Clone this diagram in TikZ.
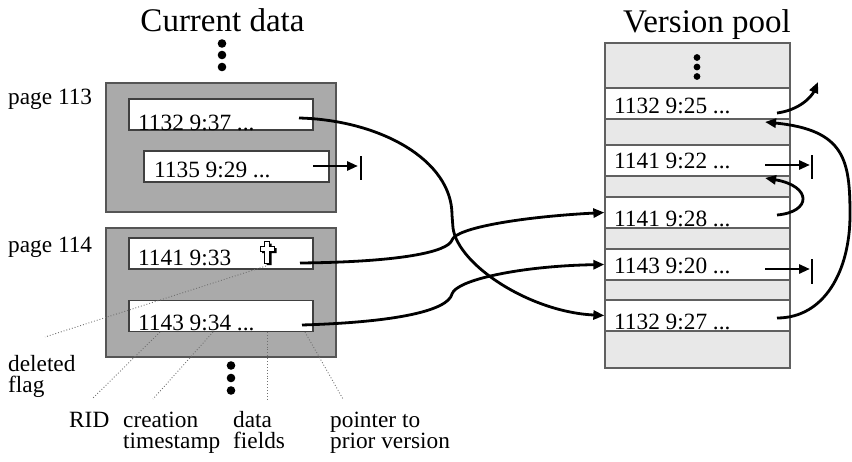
\documentclass[tikz,border=0pt]{standalone}
\usepackage{fontspec}
\setmainfont{Liberation Serif}
\usetikzlibrary{arrows.meta}
\definecolor{pagegray}{HTML}{AAAAAA}
\definecolor{pageborder}{HTML}{555555}
\definecolor{recborder}{HTML}{404040}
\definecolor{poolgray}{HTML}{E8E8E8}
\definecolor{poolborder}{HTML}{606060}
\definecolor{notegray}{HTML}{707070}
\begin{document}
\begin{tikzpicture}[x=1pt,y=-1pt,
  txt/.style={anchor=base west, inner sep=0pt, font=\fontsize{23.3}{21}\selectfont},
  ttl/.style={anchor=base, inner sep=0pt, font=\fontsize{33}{35}\selectfont},
  pagebox/.style={draw=pageborder, fill=pagegray, line width=1.5pt, inner sep=0pt, minimum width=230pt, minimum height=129pt},
  rec/.style={draw=recborder, fill=white, line width=1.3pt, inner sep=0pt, minimum width=184pt, minimum height=31pt},
  row/.style={draw=poolborder, fill=white, line width=1.3pt, inner sep=0pt, minimum width=185pt, minimum height=31pt},
  ptr/.style={line width=2.8pt, -{Triangle[length=11pt,width=9pt]}},
  nilbar/.style={line width=1.2pt},
  note/.style={draw=notegray, line width=0.9pt, dotted},
  dot/.style={fill=black, draw=none},
  crossshape/.style={line width=1pt, line join=miter},
]
\useasboundingbox (0,0) rectangle (852,461);

% titles
\node[ttl] (tcur) at (222.5,31.5) {Current data};
\node[ttl] (tpool) at (707,32) {Version pool};

% current data dots
\fill[dot] (222,43.5) circle (4.3pt) (222,55) circle (4.3pt) (222,67) circle (4.3pt);
\fill[dot] (231,365.5) circle (4.3pt) (231,378) circle (4.3pt) (231,390.5) circle (4.3pt);

% pages
\node[pagebox] (pg113) at (221,147.5) {};
\node[pagebox] (pg114) at (221,292.5) {};
\node[txt] (l113) at (8,104) {page 113};
\node[txt] (l114) at (8,252) {page 114};

% records
\node[rec] (r1) at (221,114.5) {};
\node[rec, minimum width=185pt] (r2) at (236.5,166.5) {};
\node[rec] (r3) at (221,253.5) {};
\node[rec] (r4) at (221,316) {};
\node[txt] (t1) at (138,130.5) {1132 9:37 ...};
\node[txt] (t2) at (154,177) {1135 9:29 ...};
\node[txt] (t3) at (138,265) {1141 9:33};
\node[txt] (t4) at (138,330) {1143 9:34 ...};

% deleted flag (shadowed cross)
\fill[black] (266.5,243.5) -- (271.5,243.5) -- (271.5,248) -- (276.5,248) -- (276.5,253) -- (271.5,253)
  -- (271.5,265) -- (266.5,265) -- (266.5,253) -- (262,253) -- (262,248) -- (266.5,248) -- cycle;
\filldraw[fill=white, draw=black, crossshape] (264.5,241.5) -- (269.5,241.5) -- (269.5,246.5) -- (274.5,246.5)
  -- (274.5,251.5) -- (269.5,251.5) -- (269.5,263) -- (264.5,263) -- (264.5,251.5) -- (260,251.5)
  -- (260,246.5) -- (264.5,246.5) -- cycle;
\coordinate (crossbot) at (266,266);

% version pool
\fill[poolgray] (605,43) rectangle (790,368);
\node[row] (vA) at (697.5,103.5) {};
\node[row] (vB) at (697.5,160.5) {};
\node[row] (vC) at (697.5,212.5) {};
\node[row] (vD) at (697.5,264.5) {};
\node[row] (vE) at (697.5,315.5) {};
\draw[poolborder, line width=1.3pt] (605,43) rectangle (790,368);
\fill[dot] (697,57.5) circle (3.4pt) (697,67) circle (3.4pt) (697,76.5) circle (3.4pt);
\node[txt] (uA) at (614,113) {1132 9:25 ...};
\node[txt] (uB) at (614,168) {1141 9:22 ...};
\node[txt] (uC) at (614,226) {1141 9:28 ...};
\node[txt] (uD) at (614,273) {1143 9:20 ...};
\node[txt] (uE) at (614,329) {1132 9:27 ...};

% pointer coordinates
\coordinate (p1) at (299,118);
\coordinate (p2) at (313,166);
\coordinate (n2) at (358,166);
\coordinate (b2) at (361,166);
\coordinate (p3) at (300,263);
\coordinate (p4) at (302,325);
\coordinate (qA) at (777,113);
\coordinate (nA) at (818,82);
\coordinate (qB) at (765,165);
\coordinate (nB) at (810,165);
\coordinate (bB) at (812,165);
\coordinate (qC) at (777,215);
\coordinate (nC) at (765,178);
\coordinate (qD) at (765,269);
\coordinate (nD) at (810,269);
\coordinate (bD) at (812,269);
\coordinate (qE) at (777,318);
\coordinate (nE) at (765,122);
\coordinate (k1) at (452,215);
\coordinate (k1b) at (453,228);

% connectors from current data
\draw[ptr] (p1) .. controls (380,120) and (452,160) .. (k1) -- (k1b)
  .. controls (458,265) and (530,312) .. (vE.west);
\draw[ptr] (p3) .. controls (400,262) and (448,252) .. (452,240)
  .. controls (456,228) and (520,217) .. (vC.west);
\draw[ptr] (p4) .. controls (400,322) and (448,310) .. (452,294)
  .. controls (456,280) and (520,266) .. (vD.west);
\draw[ptr] (p2) -- (n2);
\draw[nilbar] ([yshift=10pt]b2) -- ([yshift=-14pt]b2);

% connectors in version pool
\draw[ptr] (qA) .. controls (800,110) and (812,96) .. (nA);
\draw[ptr] (qB) -- (nB);
\draw[nilbar] ([yshift=10pt]bB) -- ([yshift=-14pt]bB);
\draw[ptr] (qD) -- (nD);
\draw[nilbar] ([yshift=10pt]bD) -- ([yshift=-15pt]bD);
\draw[ptr] (qC) .. controls (812,212) and (812,186) .. (nC);
\draw[ptr] (qE) .. controls (825,318) and (850,270) .. (850,215)
  .. controls (850,160) and (845,130) .. (nE);

% annotations
\coordinate (aDel) at (45,337);
\coordinate (aRid) at (92,399);
\coordinate (aCre) at (153,399);
\coordinate (aDat) at (267,399);
\coordinate (aPtr) at (343,399);
\coordinate (sRid) at (160,332);
\coordinate (sCre) at (213,332);
\coordinate (sDat) at (267,332);
\coordinate (sPtr) at (305,332);
\draw[note] (crossbot) -- (aDel);
\draw[note] (sRid) -- (aRid);
\draw[note] (sCre) -- (aCre);
\draw[note] (sDat) -- (aDat);
\draw[note] (sPtr) -- (aPtr);

\node[txt] (lDel1) at (8,371) {deleted};
\node[txt] (lDel2) at (8,392) {flag};
\node[txt] (lRid) at (69,427) {RID};
\node[txt] (lCre1) at (123,427) {creation};
\node[txt] (lCre2) at (123,448) {timestamp};
\node[txt] (lDat1) at (233,427) {data};
\node[txt] (lDat2) at (233,448) {fields};
\node[txt] (lPtr1) at (330,427) {pointer to};
\node[txt] (lPtr2) at (330,448) {prior version};
\end{tikzpicture}
\end{document}
